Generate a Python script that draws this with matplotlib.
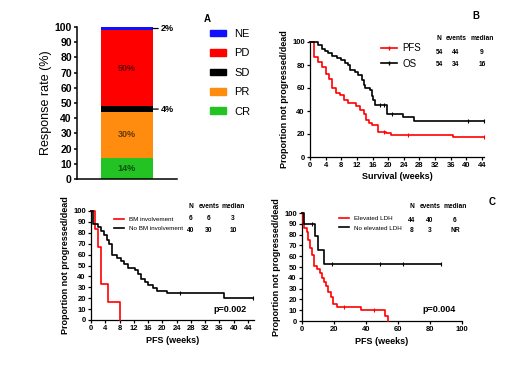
import numpy as np
import matplotlib
matplotlib.use("Agg")
import matplotlib.pyplot as plt
from matplotlib.lines import Line2D
from matplotlib.patches import Patch

plt.rcParams['font.family'] = ['Liberation Sans', 'DejaVu Sans']

# ---- Panel A: best response ----
resp_labels = ['CR', 'PR', 'SD', 'PD', 'NE']
resp_values = [14, 30, 4, 50, 2]
resp_colors = ['#22c322', '#ff8c0f', '#000000', '#ff0000', '#1010ff']
resp_inside = [True, True, False, True, False]

# ---- Panel B: PFS / OS (all patients) ----
pfs_t = [0, 1, 2, 3.1, 4, 4.9, 5.6, 6.6, 7.7, 8.8, 9.8, 11.7, 12.8, 13.7, 14.3, 15, 15.8, 17.5, 19.5, 20.6, 36.5]
pfs_s = [100, 87, 83, 78, 72, 68, 60, 56, 54, 50, 47, 44, 41, 37, 32, 30, 28, 22, 21, 19, 17]
pfs_censor = [19, 25, 44.5]
os_t = [0, 2, 3, 3.8, 4.7, 5.6, 6.8, 7.9, 9, 9.8, 10.3, 11.5, 12.4, 13.2, 13.7, 14.1, 15.4, 15.8, 16.2, 16.7, 19.7, 23.9, 26.5]
os_s = [100, 97, 94, 92, 90, 88, 86, 84, 82, 80, 76, 74, 71, 67, 63, 60, 58, 53, 50, 45, 37, 35, 31]
os_censor = [18, 19, 21, 40.5, 44.5]
b_end = 44.5
b_table = [['54', '44', '9'], ['54', '34', '16']]

# ---- Panel C left: bone marrow involvement ----
bm_t = [0, 1, 2, 2.9, 4.9, 8]
bm_s = [100, 83.3, 66.7, 33.3, 16.7, 0]
nobm_t = [0, 0.6, 2.0, 2.8, 3.7, 4.4, 5.0, 5.8, 7.2, 8.4, 9.3, 10.5, 12.3, 13.3, 14.0, 15.1, 16.1, 17.5, 18.4, 21.2, 37.2]
nobm_s = [100, 88, 85, 82, 78, 73, 70, 60, 57, 54, 51, 48, 46, 42, 38, 35, 32, 29, 27, 24.5, 20.5]
nobm_censor = [25, 45.5]
c1_end = 45.5
c1_table = [['6', '6', '3'], ['40', '30', '10']]

# ---- Panel C right: LDH ----
ldh_t = [0, 0.5, 1.5, 3, 4, 5, 6, 7.5, 9.5, 11, 12.5, 13.8, 15, 16.5, 18, 19.5, 22, 37, 52, 54]
ldh_s = [100, 91, 86, 82, 75, 68, 61, 51, 48, 44, 40, 36, 32, 27, 22, 16, 13, 10, 5, 0]
ldh_censor = [26, 45]
noldh_t = [0, 1.5, 8, 10, 14]
noldh_s = [100, 90, 79, 66, 53]
noldh_censor = [6, 19, 49, 63, 87]
noldh_end = 87
c2_table = [['44', '40', '6'], ['8', '3', 'NR']]

table_head = ['N', 'events', 'median']

W, H = 520, 365


def fx(x):
    return x / W


def fy(y):
    return 1 - y / H


def axes_px(left, top, right, bottom):
    return [fx(left), fy(bottom), (right - left) / W, (bottom - top) / H]


def surv_at(t, times, surv):
    idx = np.searchsorted(times, t, side='right') - 1
    return np.array(surv)[idx]


def km(ax, times, surv, end, color, censor=None, lw=1.2):
    tt = list(times) + [end]
    ss = list(surv) + [surv[-1]]
    ax.step(tt, ss, where='post', color=color, lw=lw, clip_on=False, zorder=3)
    if censor:
        cy = surv_at(censor, times, surv)
        ax.plot(censor, cy, ls='none', marker='|', ms=3, mew=0.8, color=color,
                clip_on=False, zorder=3)


def style(ax, lw=0.9, size=5.5):
    for s in ['top', 'right']:
        ax.spines[s].set_visible(False)
    for s in ['left', 'bottom']:
        ax.spines[s].set_linewidth(lw)
    ax.tick_params(direction='out', length=2.2, width=lw, labelsize=size, pad=1.5)
    for lab in ax.get_xticklabels() + ax.get_yticklabels():
        lab.set_fontweight('bold')


def table(cols, y_rows, head, rows, size=4.8):
    for x, h in zip(cols, head):
        fig.text(fx(x), fy(y_rows[0]), h, ha='center', va='center', fontsize=size, fontweight='bold')
    for r, row in enumerate(rows):
        for x, v in zip(cols, row):
            fig.text(fx(x), fy(y_rows[r + 1]), v, ha='center', va='center', fontsize=size, fontweight='bold')


fig = plt.figure(figsize=(5.2, 3.65), dpi=100)

# ---------- A ----------
axA = fig.add_axes(axes_px(77, 27, 177, 179))
bottoms = np.concatenate([[0], np.cumsum(resp_values)[:-1]])
axA.bar([0.5] * len(resp_values), resp_values, width=0.52, bottom=bottoms, color=resp_colors)
for v, b, inside in zip(resp_values, bottoms, resp_inside):
    mid = b + v / 2
    if inside:
        axA.text(0.5, mid, f'{v}%', ha='center', va='center', fontsize=6.5,
                 fontweight='bold', color='black', alpha=0.6)
    else:
        axA.annotate(f'{v}%', xy=(0.76, mid), xytext=(0.84, mid), ha='left', va='center',
                     fontsize=6.5, fontweight='bold',
                     arrowprops=dict(arrowstyle='-', lw=0.9, shrinkA=0, shrinkB=0))
axA.set_xlim(0, 1)
axA.set_ylim(0, 100)
axA.set_yticks(range(0, 101, 10))
axA.set_xticks([])
axA.set_ylabel('Response rate (%)', fontsize=9, labelpad=2)
style(axA, lw=1.1, size=7.5)
handles = [Patch(color=c, label=l) for l, c in zip(resp_labels, resp_colors)][::-1]
fig.legend(handles=handles, loc='upper left', bbox_to_anchor=(fx(210), fy(29)),
           frameon=False, fontsize=8, handlelength=1.45, handleheight=0.55,
           handletextpad=0.75, labelspacing=0.85, borderpad=0, borderaxespad=0)
fig.text(fx(207), fy(19), 'A', fontsize=7, fontweight='bold', ha='center', va='center')

# ---------- B ----------
axB = fig.add_axes(axes_px(310, 42, 484, 157))
km(axB, pfs_t, pfs_s, b_end, 'red', pfs_censor)
km(axB, os_t, os_s, b_end, 'black', os_censor)
axB.set_xlim(0, 44.5)
axB.set_ylim(0, 100)
axB.set_xticks(range(0, 45, 4))
axB.set_yticks(range(0, 101, 20))
axB.set_xlabel('Survival (weeks)', fontsize=6.5, fontweight='bold', labelpad=2)
axB.set_ylabel('Proportion not progressed/dead', fontsize=6.5, fontweight='bold', labelpad=2)
style(axB)
hB = [Line2D([], [], color='red', lw=1.2, marker='|', ms=3, label='PFS'),
      Line2D([], [], color='black', lw=1.2, marker='|', ms=3, label='OS')]
axB.legend(handles=hB, loc='upper left', bbox_to_anchor=(fx(381), fy(43)),
           bbox_transform=fig.transFigure, frameon=False, fontsize=7, handlelength=1.6,
           handletextpad=0.6, labelspacing=0.6, borderpad=0, borderaxespad=0, numpoints=1)
table([439, 456, 482], [39, 52, 64], table_head, b_table)
fig.text(fx(476), fy(16), 'B', fontsize=7, fontweight='bold', ha='center', va='center')

# ---------- C left ----------
axC1 = fig.add_axes(axes_px(91, 211, 254, 320))
km(axC1, bm_t, bm_s, bm_t[-1], 'red')
km(axC1, nobm_t, nobm_s, c1_end, 'black', nobm_censor)
axC1.set_xlim(0, 45.7)
axC1.set_ylim(0, 100)
axC1.set_xticks(range(0, 45, 4))
axC1.set_yticks(range(0, 101, 10))
axC1.set_xlabel('PFS (weeks)', fontsize=6.5, fontweight='bold', labelpad=3)
axC1.set_ylabel('Proportion not progressed/dead', fontsize=6.5, fontweight='bold', labelpad=2)
style(axC1)
hC1 = [Line2D([], [], color='red', lw=1.2, label='BM involvement'),
       Line2D([], [], color='black', lw=1.2, label='No BM involvement')]
axC1.legend(handles=hC1, loc='upper left', bbox_to_anchor=(fx(114), fy(217)),
            bbox_transform=fig.transFigure, frameon=False, fontsize=4.5, handlelength=1.6,
            handletextpad=0.8, labelspacing=0.6, borderpad=0, borderaxespad=0)
table([191, 209, 233], [206, 219, 231], table_head, c1_table)
fig.text(fx(230), fy(310), 'p=0.002', fontsize=6.5, fontweight='bold', ha='center', va='center')

# ---------- C right ----------
axC2 = fig.add_axes(axes_px(302, 213, 462, 321))
km(axC2, ldh_t, ldh_s, ldh_t[-1], 'red', ldh_censor)
km(axC2, noldh_t, noldh_s, noldh_end, 'black', noldh_censor)
axC2.set_xlim(0, 100)
axC2.set_ylim(0, 100)
axC2.set_xticks(range(0, 101, 20))
axC2.set_yticks(range(0, 101, 10))
axC2.set_xlabel('PFS (weeks)', fontsize=6.5, fontweight='bold', labelpad=3)
axC2.set_ylabel('Proportion not progressed/dead', fontsize=6.5, fontweight='bold', labelpad=2)
style(axC2)
hC2 = [Line2D([], [], color='red', lw=1.2, label='Elevated LDH'),
       Line2D([], [], color='black', lw=1.2, label='No elevated LDH')]
axC2.legend(handles=hC2, loc='upper left', bbox_to_anchor=(fx(339), fy(216)),
            bbox_transform=fig.transFigure, frameon=False, fontsize=4.5, handlelength=1.6,
            handletextpad=0.8, labelspacing=0.6, borderpad=0, borderaxespad=0)
table([412, 430, 455], [206, 220, 231], table_head, c2_table)
fig.text(fx(439), fy(309), 'p=0.004', fontsize=6.5, fontweight='bold', ha='center', va='center')
fig.text(fx(492), fy(202), 'C', fontsize=7, fontweight='bold', ha='center', va='center')

fig.savefig('out.png', dpi=100)
